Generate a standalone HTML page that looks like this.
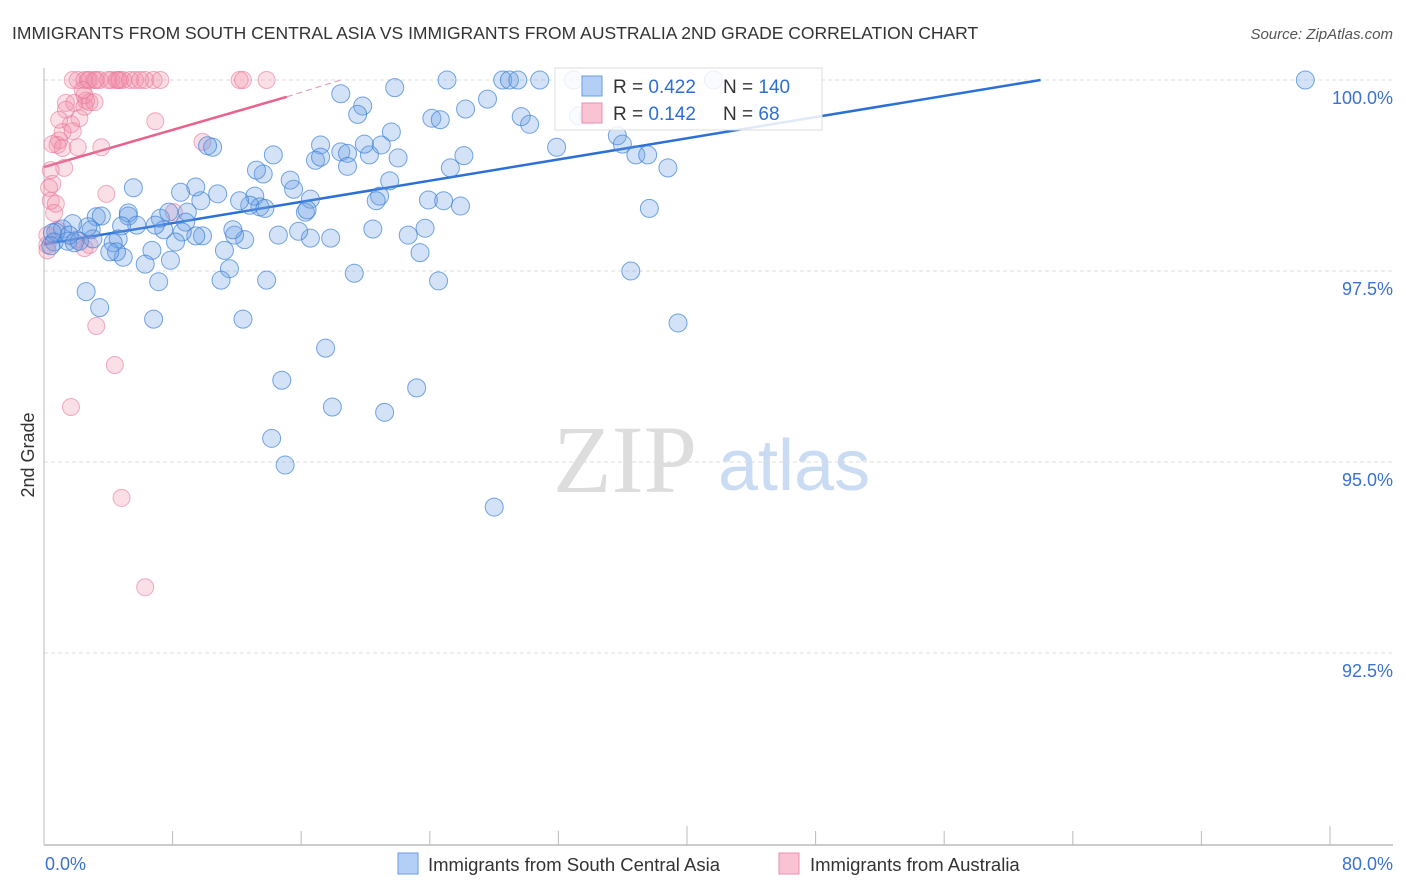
<!DOCTYPE html>
<html><head><meta charset="utf-8"><style>
body{margin:0;background:#fff;font-family:"Liberation Sans",sans-serif;}
#wrap{position:relative;width:1406px;height:892px;overflow:hidden;}
</style></head><body>
<div id="wrap">
<svg id="svg" width="1406" height="892">
<text x="12" y="39" font-size="17.5" fill="#333">IMMIGRANTS FROM SOUTH CENTRAL ASIA VS IMMIGRANTS FROM AUSTRALIA 2ND GRADE CORRELATION CHART</text>
<text x="1393" y="39" font-size="15" fill="#555" font-style="italic" text-anchor="end">Source: ZipAtlas.com</text>
<text transform="translate(34,455) rotate(-90)" font-size="18" fill="#333" text-anchor="middle">2nd Grade</text>
<g>
<text x="553" y="492" font-size="96" font-family="Liberation Serif,serif" fill="#ddd">ZIP</text>
<text x="718" y="490" font-size="72" fill="#c9dcf3">atlas</text>
</g>
<g id="grid"></g><g id="axes"></g><g id="trend"></g><g id="pts"></g>
<g>
<rect x="555" y="68" width="267" height="62" fill="#fff" fill-opacity="0.85" stroke="#ddd"/>
<rect x="582" y="76" width="20" height="20" fill="#b3cff5" stroke="#6a9ee0"/>
<rect x="582" y="103" width="20" height="20" fill="#f9c3d3" stroke="#e890ac"/>
<text x="613" y="93" font-size="19" fill="#333">R = <tspan fill="#2d6fd4">0.422</tspan></text>
<text x="723" y="93" font-size="19" fill="#333">N = <tspan fill="#2d6fd4">140</tspan></text>
<text x="613" y="120" font-size="19" fill="#333">R = <tspan fill="#2d6fd4"> 0.142</tspan></text>
<text x="723" y="120" font-size="19" fill="#333">N = <tspan fill="#2d6fd4">  68</tspan></text>
</g>
<g>
<rect x="398" y="853" width="20" height="21" fill="#b3cff5" stroke="#6a9ee0"/>
<text x="428" y="871" font-size="18.5" fill="#333">Immigrants from South Central Asia</text>
<rect x="779" y="853" width="20" height="21" fill="#f9c3d3" stroke="#e890ac"/>
<text x="810" y="871" font-size="18.5" fill="#333">Immigrants from Australia</text>
</g>
</svg>
</div>
<script>
const blueX=[74.8,23.9,27.2,27.6,28.1,29.4,31.4,39.7,20.8,17.6,18.9,18.6,26.3,25.0,23.0,23.5,28.3,28.8,31.7,32.3,34.0,34.3,35.1,35.8,30.4,37.0,35.9,34.8,37.6,24.9,24.1,20.6,20.0,21.0,17.6,18.0,16.4,16.1,16.4,18.0,19.3,19.0,20.5,19.9,19.7,22.8,23.7,24.7,22.6,21.6,22.3,23.4,19.5,18.4,17.0,15.8,15.1,15.5,15.8,14.8,14.6,13.9,13.6,13.0,12.6,12.5,12.8,12.2,11.6,11.9,11.3,11.2,10.7,10.3,10.0,9.7,9.3,9.0,8.1,8.5,8.4,9.4,9.0,8.2,7.8,6.9,7.1,7.4,6.6,6.4,6.0,6.8,7.5,5.3,5.0,5.0,5.5,4.6,4.4,4.1,4.7,4.3,3.9,3.1,3.4,2.8,2.9,2.6,1.7,1.1,0.7,0.5,0.6,1.4,1.8,2.1,1.5,0.4,2.5,3.3,6.5,11.8,11.0,10.5,13.2,16.7,14.1,17.1,22.1,20.2,13.5,14.3,26.7,13.1,15.6];
const blueY=[100,100,100,100,100,100,100,100,99.9,99.82,99.66,99.55,99.75,99.62,99.5,99.48,99.52,99.42,99.53,99.53,99.27,99.16,99.02,99.02,99.12,98.85,98.32,97.5,96.82,99.01,98.85,99.32,99.15,98.98,99.06,99.04,99.15,98.95,98.99,98.87,99.02,99.16,98.68,98.48,98.42,98.43,98.42,98.35,98.06,97.97,97.74,97.37,98.05,97.47,97.93,97.93,98.02,98.27,98.44,98.57,98.69,97.97,99.02,98.77,98.82,98.48,98.34,98.36,98.42,97.91,97.97,98.04,97.77,98.51,99.12,99.14,98.42,98.6,98.53,98.27,98.14,97.96,97.96,98.01,97.88,98.19,98.04,98.27,98.1,97.77,97.59,97.36,97.64,98.59,98.22,98.26,98.1,98.09,97.92,97.87,97.68,97.75,97.75,98.21,98.22,98.04,97.92,98.08,98.12,98.05,98.01,98.0,97.88,97.89,97.87,97.89,97.97,97.83,97.23,97.02,96.87,96.87,97.53,97.38,97.38,96.49,96.07,95.72,95.97,95.65,95.31,94.96,94.41,98.32,98.3];
const pinkX=[1.7,2.0,2.4,2.6,2.7,3.0,3.1,3.3,3.8,4.0,4.3,4.4,4.5,4.7,5.1,5.4,5.7,6.0,6.5,6.9,11.6,11.8,13.2,1.3,1.8,2.5,2.4,2.7,2.4,2.1,1.6,1.1,1.7,0.9,0.8,0.5,1.1,2.0,3.4,1.2,0.4,0.5,0.4,0.7,0.6,6.6,9.4,7.7,3.7,2.4,2.7,0.2,0.2,3.1,4.2,1.6,4.6,6.0,1.3,3.0,2.3,0.9,0.3,0.2,0.8,1.9];
const pinkY=[100,100,100,100,100,100,100,100,100,100,100,100,100,100,100,100,100,100,100,100,100,100,100,99.7,99.7,99.73,99.65,99.71,99.8,99.5,99.42,99.32,99.33,99.21,99.15,99.16,99.11,99.12,99.12,98.85,98.82,98.64,98.42,98.38,98.26,99.46,99.19,98.27,98.51,97.8,97.84,97.84,97.97,96.78,96.27,95.72,94.53,93.36,99.61,99.71,99.87,99.48,98.59,97.77,98.04,97.91];
const blueTrend=[[0,97.85],[59.1,100]];
const pinkTrendSolid=[[0,98.86],[14.4,99.78]];
const pinkTrendDash=[[14.4,99.78],[17.6,100]];
const yTicks=[100,97.5,95,92.5];
const yTickLabels=["100.0%","97.5%","95.0%","92.5%"];
const xTickCount=10;
const xLabels=["0.0%","80.0%"];

const X0=44,X1=1393,XMAX=80,Y100=80,PXPER=76.4;
const xs=v=>X0+v/XMAX*(X1-X0);
const ys=v=>Y100+(100-v)*PXPER;
const NS="http://www.w3.org/2000/svg";
function mk(parent,tag,attrs){const e=document.createElementNS(NS,tag);for(const k in attrs)e.setAttribute(k,attrs[k]);document.getElementById(parent).appendChild(e);return e;}
yTicks.forEach((t,i)=>{
  const l=mk('grid','line',{x1:X0,x2:X1,y1:ys(t),y2:ys(t),stroke:'#ddd','stroke-dasharray':'4,3'});
  
  
  const tx=mk('grid','text',{x:1393,y:ys(t)+24,'font-size':18,fill:'#3a72d0','text-anchor':'end'});
  tx.textContent=yTickLabels[i];
  
  
});
const ax=mk('axes','line',{x1:X0,x2:X0,y1:68,y2:845,stroke:'#bbb'});


const bx=mk('axes','line',{x1:X0,x2:X1,y1:845,y2:845,stroke:'#bbb','stroke-width':1.5});


const step=128.6;
for(let i=1;i<=xTickCount;i++){
  const x=X0+i*step;
  const tk=mk('axes','line',{x1:x,x2:x,y1:(i%5==0)?826:831,y2:845,stroke:'#bbb'});
  
  
}
const xl0=mk('axes','text',{x:45,y:870,'font-size':18,fill:'#3a72d0'});xl0.textContent=xLabels[0];


const xl1=mk('axes','text',{x:1393,y:870,'font-size':18,fill:'#3a72d0','text-anchor':'end'});xl1.textContent=xLabels[1];



pinkX.forEach((v,i)=>{
  const c=mk('pts','circle',{cx:xs(v),cy:ys(pinkY[i]),r:8.5,fill:'rgba(242,140,170,0.28)',stroke:'rgba(232,120,155,0.6)','stroke-width':1});
  
  
});
blueX.forEach((v,i)=>{
  const c=mk('pts','circle',{cx:xs(v),cy:ys(blueY[i]),r:9,fill:'rgba(110,160,230,0.3)',stroke:'rgba(60,130,215,0.7)','stroke-width':1});
  
  
});
const bt=mk('trend','line',{x1:xs(blueTrend[0][0]),y1:ys(blueTrend[0][1]),x2:xs(blueTrend[1][0]),y2:ys(blueTrend[1][1]),stroke:'#2c6fd6','stroke-width':2.5});


const pt=mk('trend','line',{x1:xs(pinkTrendSolid[0][0]),y1:ys(pinkTrendSolid[0][1]),x2:xs(pinkTrendSolid[1][0]),y2:ys(pinkTrendSolid[1][1]),stroke:'#e8628c','stroke-width':2.5});


const pd=mk('trend','line',{x1:xs(pinkTrendDash[0][0]),y1:ys(pinkTrendDash[0][1]),x2:xs(pinkTrendDash[1][0]),y2:ys(pinkTrendDash[1][1]),stroke:'#e8a0b8','stroke-width':1.2,'stroke-dasharray':'6,4'});


</script>
</body></html>
